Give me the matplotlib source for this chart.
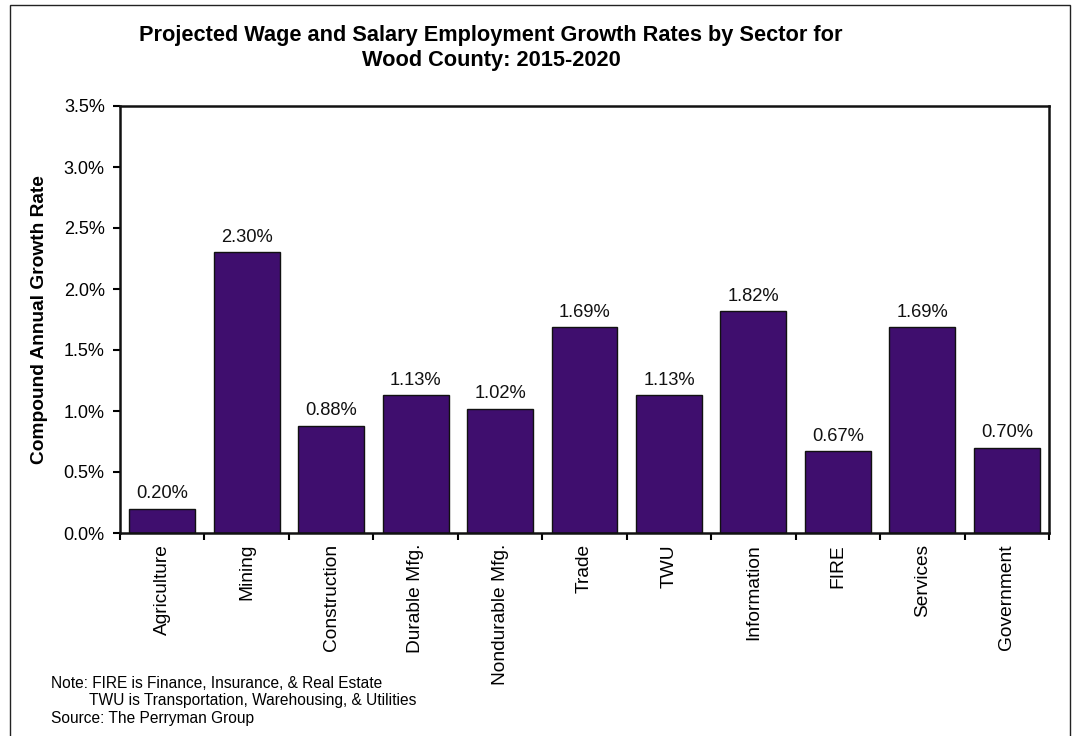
import matplotlib
matplotlib.use("Agg")
import matplotlib.pyplot as plt
from matplotlib.patches import Rectangle
from matplotlib.ticker import FuncFormatter, MultipleLocator

plt.rcParams['font.family'] = ['Liberation Sans', 'DejaVu Sans']

sectors = ["Agriculture", "Mining", "Construction", "Durable Mfg.", "Nondurable Mfg.",
           "Trade", "TWU", "Information", "FIRE", "Services", "Government"]
growth = [0.20, 2.30, 0.88, 1.13, 1.02, 1.69, 1.13, 1.82, 0.67, 1.69, 0.70]

title = "Projected Wage and Salary Employment Growth Rates by Sector for\nWood County: 2015-2020"
ylabel = "Compound Annual Growth Rate"
note_lines = ["Note: FIRE is Finance, Insurance, & Real Estate",
              "TWU is Transportation, Warehousing, & Utilities",
              "Source: The Perryman Group"]

W, H = 1074, 736
fig = plt.figure(figsize=(W / 100, H / 100), dpi=100)
fig.patch.set_facecolor("white")

# outer frame
fig.add_artist(Rectangle((10 / W, -0.02), 1060 / W, 1.02 - 5 / H, transform=fig.transFigure,
                         fill=False, edgecolor="#222222", linewidth=1.0))

ax = fig.add_axes([120 / W, 1 - 533 / H, (1049 - 120) / W, (533 - 106) / H])
x = range(len(sectors))
bars = ax.bar(x, growth, width=0.78, color="#3f0e6e", edgecolor="#111111", linewidth=1.0)
for rect, v in zip(bars, growth):
    ax.annotate(f"{v:.2f}%", (rect.get_x() + rect.get_width() / 2, v),
                xytext=(0, 4.5), textcoords="offset points", ha="center", va="bottom",
                fontsize=13.2, color="#111111")

ax.set_xlim(-0.5, len(sectors) - 0.5)
ax.set_ylim(0, 3.5)
ax.yaxis.set_major_locator(MultipleLocator(0.5))
ax.yaxis.set_major_formatter(FuncFormatter(lambda v, p: f"{v:.1f}%"))
ax.set_xticks([i - 0.5 for i in range(len(sectors) + 1)])
ax.set_xticklabels([])
ax.set_xticks(list(x), minor=True)
ax.set_xticklabels(sectors, minor=True, rotation=90, fontsize=13.8)
ax.tick_params(axis="x", which="minor", length=0, pad=8)
ax.tick_params(axis="x", which="major", length=5, width=1.5, direction="out")
ax.tick_params(axis="y", length=5, width=1.5, direction="out", labelsize=13, pad=6)
for s in ax.spines.values():
    s.set_linewidth(1.8)
    s.set_color("#111111")
ax.set_ylabel(ylabel, fontsize=13.8, fontweight="bold")
ax.yaxis.set_label_coords(-72 / (1049 - 120), 0.5)

fig.text(491 / W, 1 - 48 / H, title, ha="center", va="center", fontsize=15.7,
         fontweight="bold", linespacing=1.2)

fig.text(51 / W, 1 - 683 / H, note_lines[0], ha="left", va="center", fontsize=11.2)
fig.text(89 / W, 1 - 701 / H, note_lines[1], ha="left", va="center", fontsize=11.2)
fig.text(51 / W, 1 - 719 / H, note_lines[2], ha="left", va="center", fontsize=11.2)

fig.savefig("out.png", dpi=100, facecolor="white")
